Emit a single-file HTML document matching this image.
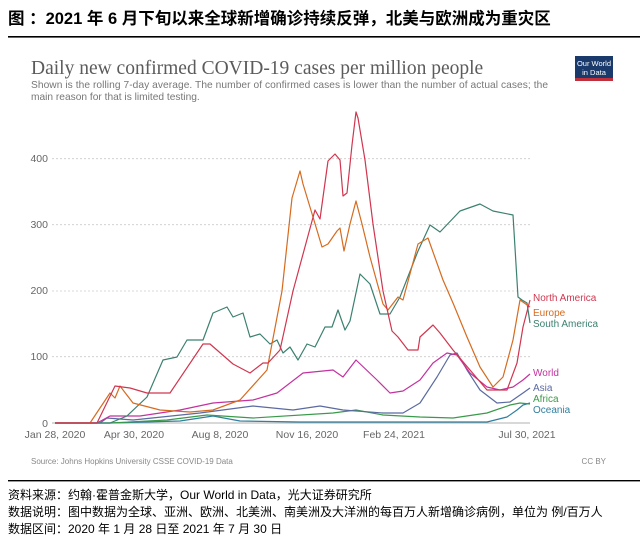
<!DOCTYPE html>
<html><head><meta charset="utf-8"><style>
body{margin:0;background:#fff;width:640px;height:538px;overflow:hidden;font-family:"Liberation Sans","Noto Sans CJK SC",sans-serif}
</style></head><body>
<svg width="640" height="538" xmlns="http://www.w3.org/2000/svg" style="position:absolute;left:0;top:0">
<text x="8" y="24" font-size="16.5" font-weight="bold" fill="#000" font-family="Liberation Sans, Noto Sans CJK SC, sans-serif">图 ：2021 年 6 月下旬以来全球新增确诊持续反弹，北美与欧洲成为重灾区</text>
<rect x="8" y="36" width="632" height="1.6" fill="#000"/>
<text x="31" y="74" font-size="19.5" fill="#5b5b5b" font-family="Liberation Serif, serif">Daily new confirmed COVID-19 cases per million people</text>
<text x="31" y="88" font-size="10.2" fill="#777" textLength="517">Shown is the rolling 7-day average. The number of confirmed cases is lower than the number of actual cases; the</text>
<text x="31" y="100" font-size="10.2" fill="#777">main reason for that is limited testing.</text>
<rect x="575" y="56" width="38" height="24" fill="#1a3a6b"/><rect x="575" y="78" width="38" height="3" fill="#c0303a"/>
<text x="594" y="66" font-size="7.5" fill="#fff" text-anchor="middle">Our World</text>
<text x="594" y="75" font-size="7.5" fill="#fff" text-anchor="middle">in Data</text>
<g stroke="#ccc" stroke-dasharray="2,2" stroke-width="0.8">
<line x1="52" x2="530" y1="158.7" y2="158.7"/><line x1="52" x2="530" y1="224.7" y2="224.7"/><line x1="52" x2="530" y1="291" y2="291"/><line x1="52" x2="530" y1="356.7" y2="356.7"/></g>
<line x1="52" x2="530" y1="423" y2="423" stroke="#999" stroke-width="0.8"/>
<g font-size="10.5" fill="#666" text-anchor="end">
<text x="48" y="162">400</text><text x="48" y="228">300</text><text x="48" y="294">200</text><text x="48" y="360">100</text><text x="48" y="427">0</text></g>
<g font-size="10.5" fill="#666" text-anchor="middle">
<text x="55" y="438">Jan 28, 2020</text><text x="134" y="438">Apr 30, 2020</text><text x="220" y="438">Aug 8, 2020</text><text x="307" y="438">Nov 16, 2020</text><text x="394" y="438">Feb 24, 2021</text><text x="527" y="438">Jul 30, 2021</text></g>
<g fill="none" stroke-width="1.2" stroke-linejoin="round">
<polyline stroke="#2f7f9f" points="55,423 110,423 180,421 213,416 240,421 300,422 400,422 487,422 507,417 517,410 523,405 530,403"/>
<polyline stroke="#3a9a4a" points="55,423 110,423 167,420 207,415 253,418 333,413 356,410 383,415 420,417 453,418 487,413 510,405 520,403 530,404"/>
<polyline stroke="#5b6aa0" points="55,423 100,423 107,418 133,420 200,413 253,406 293,410 320,406 343,410 383,413 403,413 420,403 437,377 450,355 457,353 467,370 480,390 497,403 510,402 523,393 530,388"/>
<polyline stroke="#c3329f" points="55,423 97,423 110,416 140,416 180,410 213,403 253,400 277,393 303,373 333,370 343,377 356,360 377,380 390,393 403,391 420,380 433,363 447,353 457,355 470,373 487,387 500,390 513,387 523,380 530,374"/>
<polyline stroke="#3c8070" points="55,423 110,423 127,416 147,397 163,360 177,357 187,340 203,340 213,313 227,307 233,317 243,313 250,337 260,334 270,344 277,340 283,353 290,347 298,360 307,344 315,347 325,327 332,327 338,310 345,330 350,321 360,274 370,284 380,314 390,314 400,297 418,251 430,225 440,232 460,211 480,204 493,211 513,215 518,297 522,300 527,303 530,323"/>
<polyline stroke="#d66b1f" points="55,423 90,423 110,393 115,398 120,386 133,403 160,410 190,412 213,410 240,400 267,370 282,291 292,198 300,171 303,184 313,217 322,247 328,244 337,231 340,228 344,251 350,224 356,201 362,224 370,257 383,304 388,310 398,297 403,300 418,244 428,238 443,280 453,303 467,337 480,367 493,387 503,377 513,340 520,300 530,307"/>
<polyline stroke="#d0364f" points="55,423 97,423 115,386 130,388 147,393 170,393 203,344 210,344 233,364 250,373 263,363 268,363 280,350 293,291 315,210 320,219 328,161 335,154 340,160 343,196 347,193 352,145 356,112 358,118 365,160 373,224 383,291 392,331 398,337 408,350 418,350 420,337 433,325 440,333 453,350 470,370 487,390 507,390 517,363 523,327 530,300"/>
</g>
<g font-size="10">
<text x="533" y="301" fill="#d0364f">North America</text>
<text x="533" y="316" fill="#d66b1f">Europe</text>
<text x="533" y="327" fill="#3c8070">South America</text>
<text x="533" y="376" fill="#c3329f">World</text>
<text x="533" y="391" fill="#5b6aa0">Asia</text>
<text x="533" y="402" fill="#3a9a4a">Africa</text>
<text x="533" y="413" fill="#2f7f9f">Oceania</text></g>
<text x="31" y="464" font-size="8" fill="#888">Source: Johns Hopkins University CSSE COVID-19 Data</text>
<text x="606" y="464" font-size="8" fill="#888" text-anchor="end">CC BY</text>
<rect x="8" y="480" width="632" height="1.4" fill="#000"/>
<g font-size="12" fill="#000" font-family="Liberation Sans, Noto Sans CJK SC, sans-serif">
<text x="8" y="499">资料来源：约翰·霍普金斯大学，Our World in Data，光大证券研究所</text>
<text x="8" y="516">数据说明：图中数据为全球、亚洲、欧洲、北美洲、南美洲及大洋洲的每百万人新增确诊病例，单位为 例/百万人</text>
<text x="8" y="533">数据区间：2020 年 1 月 28 日至 2021 年 7 月 30 日</text></g>
</svg>
</body></html>
